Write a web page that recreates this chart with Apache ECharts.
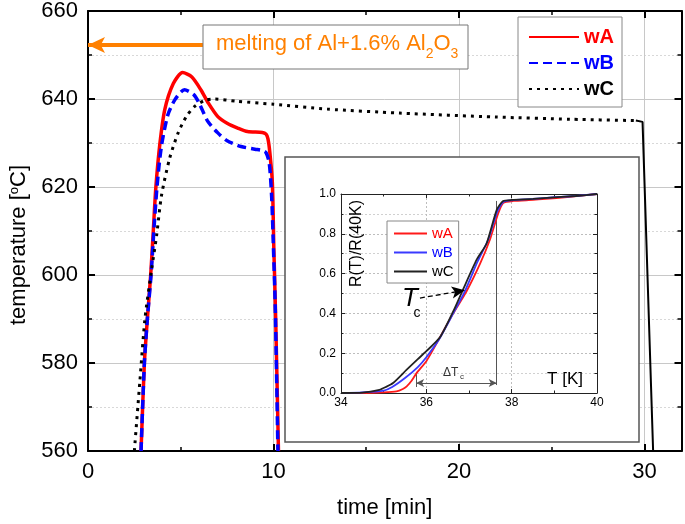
<!DOCTYPE html>
<html><head><meta charset="utf-8">
<script src="https://cdn.jsdelivr.net/npm/echarts@6/dist/echarts.min.js"></script>
<style>html,body{margin:0;padding:0;background:#fff}#c{width:685px;height:524px}</style>
</head><body><div id="c"></div>
<script>
const FONT = '"Liberation Sans", Arial, Helvetica, sans-serif';

// ---- main chart: temperature vs time ----
const timeA = [2.86, 3.04, 3.2, 3.38, 3.52, 3.66, 3.88, 4.14, 4.6, 5.1, 5.6, 6.1, 6.5, 7.0, 7.5, 8.07, 8.6, 9.4, 9.6, 9.7, 9.8, 9.94, 10.02, 10.12, 10.27];
const tempA = [560, 580, 590, 600, 610, 620, 630, 637.6, 643.5, 646, 645, 642, 639, 636, 634.5, 633.4, 632.6, 632.4, 632, 631, 628, 621, 606, 590, 560];

const timeB = [2.86, 3.04, 3.2, 3.4, 3.55, 3.72, 3.95, 4.3, 4.68, 5.2, 5.7, 6.0, 6.46, 7.0, 7.5, 8.25, 9.0, 9.4, 9.6, 9.77, 9.9, 10.0, 10.1, 10.24];
const tempB = [560, 580, 590, 600, 610, 620, 629, 636.3, 639.8, 642.1, 641, 639, 634.9, 632.3, 630.5, 629.2, 628.6, 628.3, 627.8, 625.5, 618, 606, 592, 560];

const timeC = [2.5, 2.8, 3.07, 3.43, 3.7, 3.96, 4.4, 4.86, 5.3, 5.75, 6.3, 6.82, 8.0, 10.0, 12.9, 16.8, 22.0, 26.0, 29.54];
const tempC = [560, 576, 590, 601.3, 609, 618, 626.5, 632.3, 636, 638.3, 639.7, 640, 639.5, 638.8, 637.7, 636.8, 635.9, 635.4, 635.1];
// solid final drop of wC
const timeCend = [29.54, 29.9, 30.47];
const tempCend = [635.1, 634.8, 560];

// melting arrow (time, temperature)
const meltArrowTime = [6.26, 0];
const meltTemp = 652.3;

// ---- inset: R(T)/R(40K) vs T ----
const insetTA = [34, 34.5, 35, 35.3, 35.45, 35.54, 35.65, 35.77, 36.0, 36.32, 36.63, 36.94, 37.26, 37.49, 37.68, 37.8, 38.04, 38.5, 38.8, 39.3, 40];
const insetRA = [0, 0, 0.003, 0.008, 0.02, 0.033, 0.06, 0.10, 0.16, 0.28, 0.40, 0.51, 0.65, 0.77, 0.90, 0.955, 0.965, 0.97, 0.975, 0.985, 1.0];
const insetTB = [34, 34.5, 35.0, 35.2, 35.5, 35.8, 36.0, 36.3, 36.63, 36.9, 37.2, 37.45, 37.66, 37.8, 38.0, 38.5, 39, 39.5, 40];
const insetRB = [0, 0.003, 0.012, 0.03, 0.075, 0.13, 0.18, 0.27, 0.40, 0.51, 0.66, 0.77, 0.91, 0.96, 0.968, 0.975, 0.984, 0.99, 1.0];
const insetTC = [34, 34.5, 34.9, 35.05, 35.22, 35.54, 35.8, 36.0, 36.32, 36.63, 36.86, 37.18, 37.41, 37.65, 37.8, 38.0, 38.5, 39, 39.5, 40];
const insetRC = [0, 0.002, 0.016, 0.03, 0.05, 0.117, 0.17, 0.21, 0.28, 0.41, 0.52, 0.67, 0.75, 0.92, 0.965, 0.97, 0.975, 0.983, 0.99, 1.0];

// Tc arrow and ΔTc markers (T, R)
const tcArrowT = [35.85, 36.9];
const tcArrowR = [0.477, 0.516];
const dTcT = [35.76, 37.65];
const dTcR = 0.05;
const dTcTopR = 0.965;

const seriesNames = ['wA', 'wB', 'wC'];
const seriesColors = ['#ff0000', '#0000ff', '#000000'];

function pairs(xs, ys) { return xs.map((x, i) => [x, ys[i]]); }

const chart = echarts.init(document.getElementById('c'), null, {renderer: 'canvas'});

const mainAxisCommon = {
  axisLine: {show: true, onZero: false, lineStyle: {color: '#000', width: 2}},
  axisTick: {show: true, inside: true, length: 7, lineStyle: {color: '#000', width: 2}},
  minorTick: {show: true, splitNumber: 2, length: 4, lineStyle: {color: '#000', width: 1.5}}
};
const insetAxisCommon = {
  axisLine: {show: true, onZero: false, lineStyle: {color: '#222', width: 1}},
  axisTick: {show: true, inside: true, length: 4, lineStyle: {color: '#222', width: 1}},
  minorTick: {show: true, splitNumber: 2, length: 2.5, lineStyle: {color: '#222', width: 1}},
  z: 3
};
const hiddenSymbol = {color: 'rgba(0,0,0,0)', borderColor: 'rgba(0,0,0,0)', borderWidth: 0};

const option = {
  animation: false,
  backgroundColor: '#fff',
  grid: [
    {left: 86, top: 11, width: 595.5, height: 441, show: false},
    {left: 341, top: 194, width: 256, height: 199, show: false}
  ],
  xAxis: [
    Object.assign({}, mainAxisCommon, {
      gridIndex: 0, type: 'value', min: 0, max: 32, interval: 10, position: 'bottom',
      axisLabel: {fontSize: 22, color: '#000', margin: 10, fontFamily: FONT,
        formatter: v => (v % 10 === 0 ? String(v) : '')},
      splitLine: {show: true, lineStyle: {color: '#c8c8c8', width: 1}},
      name: 'time [min]', nameLocation: 'middle', nameGap: 46,
      nameTextStyle: {fontSize: 22, color: '#000', fontFamily: FONT}
    }),
    Object.assign({}, mainAxisCommon, {
      gridIndex: 0, type: 'value', min: 0, max: 32, interval: 10, position: 'top',
      axisLabel: {show: false}, splitLine: {show: false}
    }),
    Object.assign({}, insetAxisCommon, {
      gridIndex: 1, type: 'value', min: 34, max: 40, interval: 2, position: 'bottom',
      axisLabel: {fontSize: 12, color: '#000', margin: 4, fontFamily: FONT},
      splitLine: {show: true, lineStyle: {color: '#bdbdbd', width: 1, type: [2, 2]}}
    }),
    Object.assign({}, insetAxisCommon, {
      gridIndex: 1, type: 'value', min: 34, max: 40, interval: 2, position: 'top',
      axisLabel: {show: false}, splitLine: {show: false}
    })
  ],
  yAxis: [
    Object.assign({}, mainAxisCommon, {
      gridIndex: 0, type: 'value', min: 560, max: 660, interval: 20, position: 'left',
      axisLabel: {fontSize: 22, color: '#000', margin: 10, fontFamily: FONT},
      splitLine: {show: true, lineStyle: {color: '#c8c8c8', width: 1}},
      minorSplitLine: {show: true, lineStyle: {color: '#d8d8d8', width: 1, type: [2, 2]}},
      name: '{n|temperature [}{s|o}{n|C]}', nameLocation: 'middle', nameGap: 58,
      nameTextStyle: {fontSize: 22, color: '#000', fontFamily: FONT, padding: [0, 28, 0, 0],
        rich: {
          n: {fontSize: 22, fontFamily: FONT, color: '#000', verticalAlign: 'bottom'},
          s: {fontSize: 13, fontFamily: FONT, color: '#000', verticalAlign: 'bottom', padding: [0, 0, 9, 0]}
        }}
    }),
    Object.assign({}, mainAxisCommon, {
      gridIndex: 0, type: 'value', min: 560, max: 660, interval: 20, position: 'right',
      axisLabel: {show: false}, splitLine: {show: false}
    }),
    Object.assign({}, insetAxisCommon, {
      gridIndex: 1, type: 'value', min: 0, max: 1, interval: 0.2, position: 'left',
      axisLabel: {fontSize: 12, color: '#000', margin: 5, fontFamily: FONT, formatter: v => v.toFixed(1)},
      splitLine: {show: true, lineStyle: {color: '#bdbdbd', width: 1, type: [2, 2]}},
      minorSplitLine: {show: true, lineStyle: {color: '#d0d0d0', width: 1, type: [2, 2]}}
    }),
    Object.assign({}, insetAxisCommon, {
      gridIndex: 1, type: 'value', min: 0, max: 1, interval: 0.2, position: 'right',
      axisLabel: {show: false}, splitLine: {show: false}
    })
  ],
  legend: [
    {
      left: 518, top: 17, orient: 'vertical',
      data: seriesNames.map((n, i) => ({name: n, textStyle: {color: seriesColors[i]}})),
      itemWidth: 50, itemHeight: 14, itemGap: 6, padding: [10, 8, 8, 10],
      borderColor: '#888', borderWidth: 1, backgroundColor: '#fff',
      textStyle: {fontSize: 20, fontWeight: 'bold', fontFamily: FONT},
      itemStyle: hiddenSymbol,
      selectedMode: false, z: 6
    },
    {
      left: 387, top: 221, orient: 'vertical',
      data: seriesNames.map((n, i) => ({name: n + '_i', textStyle: {color: seriesColors[i]}})),
      formatter: n => n.replace('_i', ''),
      itemWidth: 33, itemHeight: 10, itemGap: 4, padding: [5, 5, 4, 6],
      borderColor: '#888', borderWidth: 1, backgroundColor: '#fff',
      textStyle: {fontSize: 15, fontFamily: FONT},
      itemStyle: hiddenSymbol,
      selectedMode: false, z: 6
    }
  ],
  graphic: {
    elements: [
      // inset frame
      {type: 'rect', z: 1, shape: {x: 285, y: 157, width: 354, height: 285},
        style: {fill: '#fff', stroke: '#555', lineWidth: 1.5}},
      // annotation box
      {type: 'rect', z: 10, shape: {x: 203, y: 25, width: 265, height: 44},
        style: {fill: '#fff', stroke: '#777', lineWidth: 1}},
      {type: 'text', z: 11, x: 216, y: 47,
        style: {text: '{m|melting of Al+1.6% Al}{s|2}{m|O}{s|3}', fill: '#ff8000', verticalAlign: 'middle', align: 'left',
          font: '22px ' + FONT,
          rich: {
            m: {fontSize: 22, fontFamily: FONT, fill: '#ff8000', verticalAlign: 'top'},
            s: {fontSize: 14, fontFamily: FONT, fill: '#ff8000', verticalAlign: 'top', padding: [15, 0, 0, 0]}
          }}},
      // inset axis titles
      {type: 'text', z: 7, x: 356.5, y: 243.5, rotation: Math.PI / 2,
        style: {text: 'R(T)/R(40K)', font: '16px ' + FONT, fill: '#000', align: 'center', verticalAlign: 'middle'}},
      {type: 'text', z: 7, x: 565, y: 379.5,
        style: {text: 'T [K]', font: '17px ' + FONT, fill: '#000', align: 'center', verticalAlign: 'middle'}},
      // Tc label
      {type: 'text', z: 7, x: 410, y: 299,
        style: {text: 'T', font: 'italic 26px ' + FONT, fill: '#000', align: 'center', verticalAlign: 'middle'}},
      {type: 'text', z: 7, x: 417, y: 313,
        style: {text: 'c', font: '14px ' + FONT, fill: '#000', align: 'center', verticalAlign: 'middle'}},
      // ΔTc label
      {type: 'text', z: 7, x: 443, y: 373,
        style: {text: 'ΔT', font: '12px ' + FONT, fill: '#333', align: 'left', verticalAlign: 'middle'}},
      {type: 'text', z: 7, x: 460, y: 377,
        style: {text: 'c', font: '8px ' + FONT, fill: '#333', align: 'left', verticalAlign: 'middle'}}
    ]
  },
  series: [
    {name: 'wA', type: 'line', xAxisIndex: 0, yAxisIndex: 0, data: pairs(timeA, tempA),
      symbol: 'none', smooth: 0.25, lineStyle: {color: seriesColors[0], width: 3.5}, itemStyle: {color: seriesColors[0]},
      markLine: {silent: true, symbol: ['none', 'arrow'], symbolSize: [12, 17],
        label: {show: false}, lineStyle: {color: '#ff8000', width: 4, type: 'solid'},
        data: [[{coord: [meltArrowTime[0], meltTemp]}, {coord: [meltArrowTime[1], meltTemp]}]]}},
    {name: 'wB', type: 'line', xAxisIndex: 0, yAxisIndex: 0, data: pairs(timeB, tempB),
      symbol: 'none', smooth: 0.25, lineStyle: {color: seriesColors[1], width: 3.5, type: [9, 5]}, itemStyle: {color: seriesColors[1]}},
    {name: 'wC', type: 'line', xAxisIndex: 0, yAxisIndex: 0, data: pairs(timeC, tempC),
      symbol: 'none', smooth: 0.25, lineStyle: {color: seriesColors[2], width: 3, type: [3, 5]}, itemStyle: {color: seriesColors[2]}},
    {name: 'wC-end', type: 'line', xAxisIndex: 0, yAxisIndex: 0, data: pairs(timeCend, tempCend),
      symbol: 'none', lineStyle: {color: '#000', width: 2}, itemStyle: {color: '#000'}},

    {name: 'wA_i', type: 'line', xAxisIndex: 2, yAxisIndex: 2, data: pairs(insetTA, insetRA), z: 4,
      symbol: 'none', smooth: 0.2, lineStyle: {color: '#ff1a1a', width: 1.8}, itemStyle: {color: '#ff1a1a'},
      markLine: {silent: true, z: 4, label: {show: false}, symbol: ['arrow', 'arrow'], symbolSize: [6, 8],
        lineStyle: {color: '#555', width: 1, type: 'solid'},
        data: [
          [{coord: [dTcT[0], dTcR]}, {coord: [dTcT[1], dTcR]}],
          [{coord: [dTcT[1], 0.04], symbol: 'none'}, {coord: [dTcT[1], dTcTopR], symbol: 'none'}],
          [{coord: [dTcT[0], 0.03], symbol: 'none'}, {coord: [dTcT[0], 0.1], symbol: 'none'}]
        ]}},
    {name: 'wB_i', type: 'line', xAxisIndex: 2, yAxisIndex: 2, data: pairs(insetTB, insetRB), z: 4,
      symbol: 'none', smooth: 0.2, lineStyle: {color: '#3a3aff', width: 1.8}, itemStyle: {color: '#3a3aff'}},
    {name: 'wC_i', type: 'line', xAxisIndex: 2, yAxisIndex: 2, data: pairs(insetTC, insetRC), z: 4,
      symbol: 'none', smooth: 0.2, lineStyle: {color: '#222', width: 1.8}, itemStyle: {color: '#222'},
      markLine: {silent: true, z: 5, label: {show: false}, symbol: ['none', 'arrow'], symbolSize: [9, 13],
        lineStyle: {color: '#000', width: 1.3, type: [5, 3]},
        data: [[{coord: [tcArrowT[0], tcArrowR[0]]}, {coord: [tcArrowT[1], tcArrowR[1]]}]]}}
  ]
};
chart.setOption(option);
</script></body></html>
